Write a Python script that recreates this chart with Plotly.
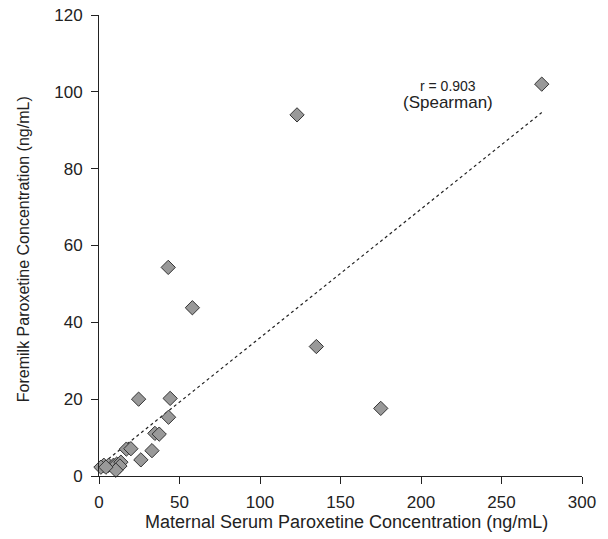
import plotly.graph_objects as go

serum = [275, 123, 43, 58, 135, 175, 24.6, 44.2, 43.2, 34.7, 37.4, 17, 19.8, 32.9, 26,
         3, 6, 9, 11, 13.6, 13, 10.5, 1.2, 4.3]
milk = [102, 94, 54.3, 43.8, 33.7, 17.6, 20, 20.2, 15.3, 11.1, 10.9, 7, 7.1, 6.6, 4.2,
        2.8, 2.8, 2.8, 3.1, 3.6, 2.6, 1.5, 2.3, 2.3]
fit_x = [0, 275]
fit_y = [2.5, 94.6]

x_ticks = [0, 50, 100, 150, 200, 250, 300]
y_ticks = [0, 20, 40, 60, 80, 100, 120]

x_title = "Maternal Serum Paroxetine Concentration (ng/mL)"
y_title = "Foremilk Paroxetine Concentration (ng/mL)"

fig = go.Figure()
fig.add_trace(go.Scatter(x=fit_x, y=fit_y, mode="lines",
                         line=dict(color="#222", width=1.2, dash="dot"),
                         hoverinfo="skip", showlegend=False))
fig.add_trace(go.Scatter(x=serum, y=milk, mode="markers",
                         marker=dict(symbol="diamond", size=11, color="#999999",
                                     line=dict(color="#333333", width=1)),
                         showlegend=False, cliponaxis=False))

fig.add_annotation(x=217, y=101.6, xref="x", yref="y", text="r = 0.903", showarrow=False,
                   font=dict(size=14, color="#222"))
fig.add_annotation(x=217, y=97.1, xref="x", yref="y", text="(Spearman)", showarrow=False,
                   font=dict(size=17, color="#222"))

# axis titles
fig.add_annotation(x=0.513, y=0, xref="paper", yref="paper", yanchor="middle",
                   yshift=-46, text=x_title, showarrow=False,
                   font=dict(size=18, color="#222"))
fig.add_annotation(x=0, y=0.492, xref="paper", yref="paper", xanchor="center",
                   xshift=-76, text=y_title, textangle=-90, showarrow=False,
                   font=dict(size=16, color="#222"))

fig.update_layout(
    width=608, height=539,
    margin=dict(l=99, r=26, t=15, b=63),
    paper_bgcolor="white", plot_bgcolor="white",
    font=dict(family="Liberation Sans, Arial, sans-serif", size=17, color="#222"),
    xaxis=dict(range=[0, 300], tickvals=x_ticks, showgrid=False, zeroline=False,
               showline=True, linecolor="#222", linewidth=1, automargin=False,
               ticks="outside", ticklen=7, tickcolor="#222", ticklabelstandoff=4,
               ticklabeloverflow="allow"),
    yaxis=dict(range=[0, 120], tickvals=y_ticks, showgrid=False, zeroline=False,
               showline=True, linecolor="#222", linewidth=1, automargin=False,
               ticks="outside", ticklen=7, tickcolor="#222", ticklabelstandoff=5,
               ticklabeloverflow="allow"),
)

fig.write_html("out.html", config={"displayModeBar": False},
               post_script="document.body.style.margin='0';")
